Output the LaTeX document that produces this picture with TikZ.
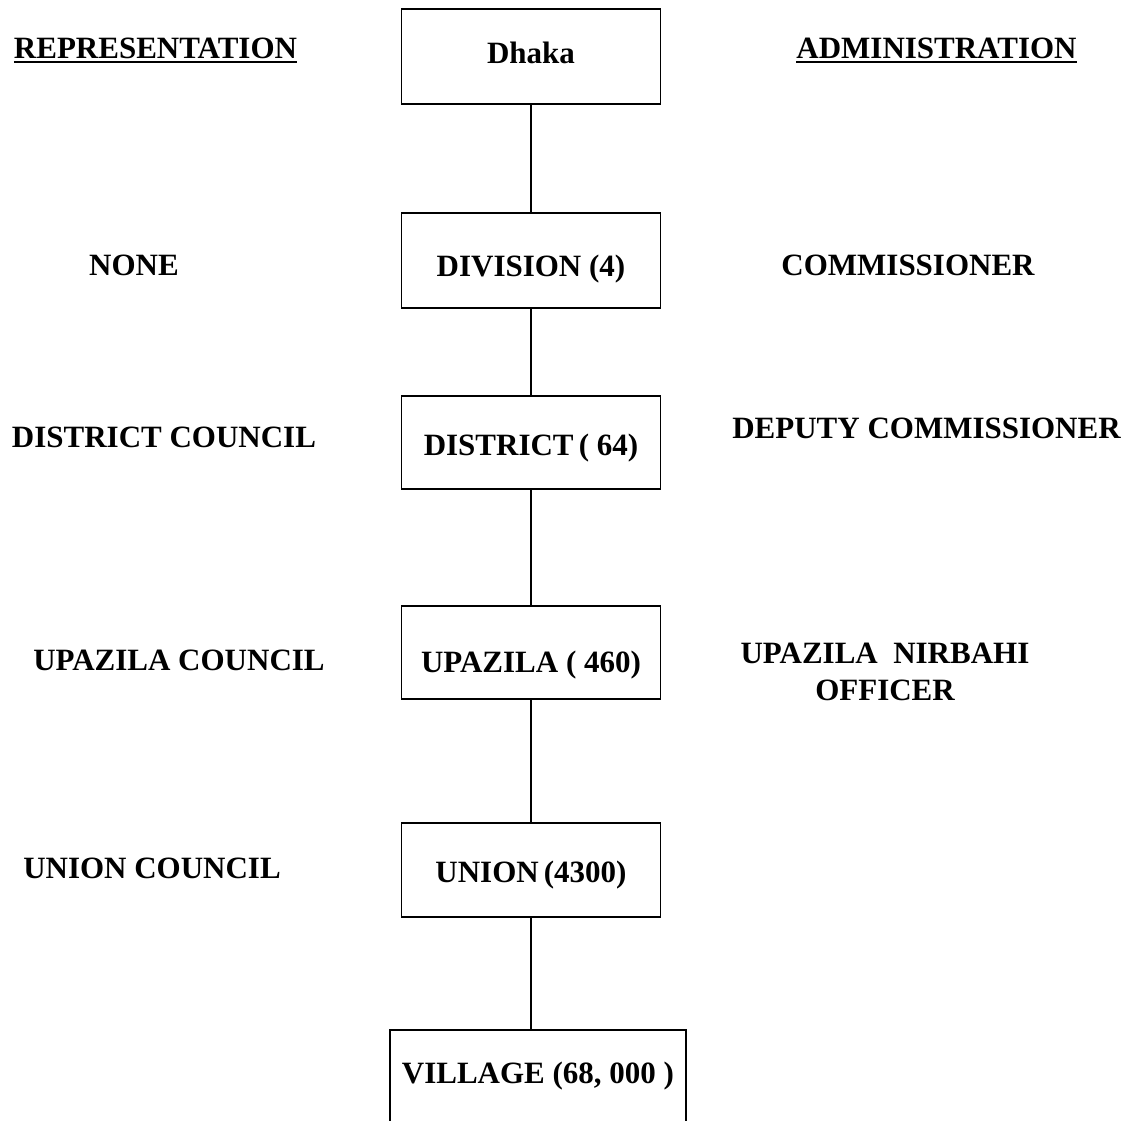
\documentclass[tikz,border=0pt]{standalone}
\usepackage{fontspec}
\setmainfont{Liberation Serif}
\usetikzlibrary{positioning}
\newcommand{\thickul}[1]{\setbox0\hbox{#1}\rlap{\rule[-4.5pt]{\wd0}{1.8pt}}\box0}

\begin{document}
\begin{tikzpicture}[x=1pt,y=-1pt,
  level/.style={draw,line width=1.6pt,minimum width=259pt,minimum height=95pt,inner sep=0pt,
    text height=21pt,text depth=0pt,font=\bfseries\fontsize{31}{36}\selectfont},
  side/.style={inner sep=0pt,anchor=base,align=center,font=\bfseries\fontsize{31}{37}\selectfont},
  link/.style={line width=1.3pt}]
\useasboundingbox (0,0) rectangle (1132,1120);
\pgfmathsetmacro{\colx}{531}
% the ladder of units
\node[level,text depth=8pt] (dhaka) at (\colx,56.5) {Dhaka};
\node[level,text height=31pt] (division) at (\colx,260.5) {DIVISION (4)};
\node[level,minimum height=93pt,text height=26pt] (district) at (\colx,442.5) {DISTRICT\,( 64)};
\node[level,minimum height=93pt,text height=39pt] (upazila) at (\colx,652.5) {UPAZILA ( 460)};
\node[level,minimum height=94pt,text height=25pt] (union) at (\colx,870) {UNION\,(4300)};
\node[level,minimum width=296pt,minimum height=96pt,text depth=10pt] (village) at (538,1078) {VILLAGE (68, 000 )};
\foreach \a/\b in {dhaka/division,division/district,district/upazila,upazila/union}
  \draw[link] (\a) -- (\b);
\draw[link] (union.south) -- (union.south |- village.north);
% representation side
\node[side] (rep) at (155.5,58) {\thickul{REPRESENTATION}};
\node[side] (none) at (134,275) {NONE};
\node[side] (dcouncil) at (164,447) {DISTRICT COUNCIL};
\node[side] (ucouncil) at (179,670) {UPAZILA COUNCIL};
\node[side] (uncouncil) at (152,878) {UNION COUNCIL};
% administration side
\node[side] (adm) at (936.5,58) {\thickul{ADMINISTRATION}};
\node[side] (comm) at (908,275) {COMMISSIONER};
\node[side] (dcomm) at (926.5,438) {DEPUTY COMMISSIONER};
\node[side,anchor=center] (uno) at (885,672) {UPAZILA\ \ NIRBAHI\\OFFICER};
\end{tikzpicture}
\end{document}
